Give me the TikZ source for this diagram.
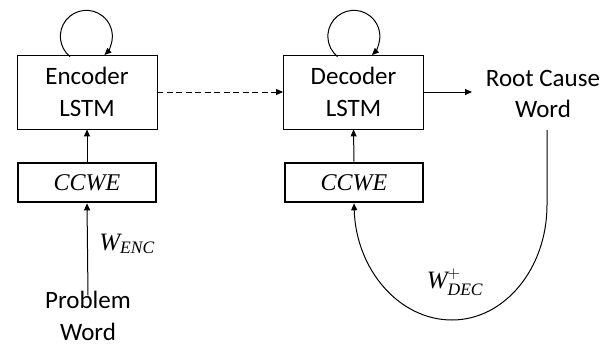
\documentclass[tikz,border=0pt]{standalone}
\usepackage{fontspec}
\usepackage{amsmath}
\setmainfont{Carlito}
\newfontfamily\mserif{Liberation Serif}
\newcommand{\mi}[1]{\text{\mserif\itshape #1}}
\usetikzlibrary{arrows.meta}
\begin{document}
\begin{tikzpicture}[x=1pt,y=-1pt,
  txt/.style={font=\fontsize{25}{31.5}\selectfont, align=center, inner sep=0pt},
  lstm/.style={draw, line width=0.9pt, minimum width=140pt, minimum height=74pt, txt},
  ccwe/.style={draw, line width=2.6pt, minimum width=138pt, minimum height=39pt, font=\fontsize{24}{28}\selectfont, inner sep=0pt},
  arr/.style={line width=1pt, -{Triangle[length=7pt,width=6pt]}},
  lbl/.style={font=\fontsize{25}{28}\selectfont, inner sep=0pt}]
\useasboundingbox (0,0) rectangle (615,348);
\node[lstm] (enc) at (87,92) {Encoder\\LSTM};
\node[lstm] (dec) at (353.5,92) {Decoder\\LSTM};
\node[ccwe] (cce) at (87,182.5) {$\mi{CCWE}$};
\node[ccwe] (ccd) at (354,182.5) {$\mi{CCWE}$};
\node[txt] (root) at (543,94) {Root Cause\\Word};
\node[txt] (prob) at (88,316) {Problem\\Word};
\node[lbl] (wenc) at (127,244) {$\mi{W}_{\mi{ENC}}$};
\node[lbl] (wdec) at (455,282) {$\mi{W}^{+}_{\mi{DEC}}$};
% self loops
\draw[arr] ([xshift=-17pt,yshift=-2pt]enc.north) arc[start angle=231, end angle=-46, radius=26pt];
\draw[arr] ([xshift=-16pt,yshift=-2pt]dec.north) arc[start angle=231, end angle=-46, radius=26pt];
% main connectors
\draw[arr, dash pattern=on 6pt off 3.5pt] (enc.east) -- (dec.west);
\draw[arr] (dec.east) -- (472,92);
\draw[arr] (cce.north) -- (enc.south);
\draw[arr] (ccd.north) -- (dec.south);
\draw[arr] ([yshift=-4pt]prob.north) -- (cce.south);
% feedback
\coordinate (rb) at (547,130);
\coordinate (rr) at (547,205);
\draw[arr] (rb) -- (rr) .. controls (547,268.5) and (504.5,320) .. (452,320)
  .. controls (399,320) and (356,269.4) .. (ccd.south);
\end{tikzpicture}
\end{document}
